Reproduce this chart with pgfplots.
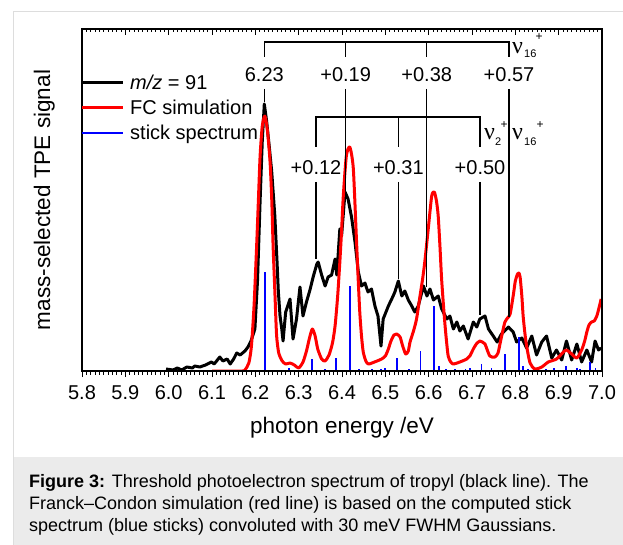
\documentclass[border=0pt]{standalone}
\usepackage{pgfplots}
\pgfplotsset{compat=1.18}
\usepackage{fontspec}
\setmainfont{Liberation Sans}
\newfontfamily\nufont{Liberation Serif}
\definecolor{capbg}{HTML}{EBEBEB}
\definecolor{framec}{HTML}{DDDDDD}
\newcommand{\fs}[1]{\fontsize{#1}{#1}\selectfont}

\pgfplotstableread{
E s
5.994 2
6.010 1
6.020 3
6.030 1
6.042 4
6.055 3
6.060 5
6.072 4
6.085 6
6.099 9
6.105 7
6.118 14
6.125 10
6.135 12
6.142 7
6.150 12
6.157 18
6.165 16
6.176 20
6.183 24
6.190 30
6.199 42
6.205 90
6.211 170
6.216 230
6.2207 267
6.226 250
6.232 225
6.2377 200
6.245 155
6.250 110
6.253 80
6.257 55
6.261 42
6.264 30
6.270 59
6.280 72
6.287 32
6.295 52
6.303 84
6.310 55
6.318 69
6.326 81
6.334 95
6.342 107
6.345 109
6.353 96
6.361 85
6.368 94
6.376 96
6.384 112
6.388 96
6.395 142
6.399 135
6.407 179
6.414 172
6.422 154
6.430 129
6.4377 99
6.445 85
6.453 88
6.460 79
6.468 82
6.476 65
6.483 55
6.490 25
6.495 52
6.507 65
6.518 75
6.522 79
6.530 90
6.538 75
6.545 80
6.553 71
6.561 65
6.568 59
6.576 65
6.588 85
6.596 75
6.603 82
6.611 71
6.622 75
6.630 62
6.642 52
6.649 55
6.657 42
6.665 49
6.672 40
6.680 45
6.691 32
6.703 49
6.711 44
6.718 52
6.730 55
6.738 42
6.749 35
6.758 29
6.768 37
6.784 44
6.795 39
6.803 29
6.815 33
6.826 23
6.838 35
6.849 16
6.861 29
6.872 35
6.884 13
6.895 21
6.907 11
6.918 30
6.930 11
6.942 27
6.953 9
6.965 21
6.976 9
6.984 30
6.992 21
6.998 23
}\expdata

\pgfplotstableread{
E s
6.100 0
6.170 0
6.176 1
6.185 8
6.191 25
6.197 65
6.203 125
6.207 170
6.211 215
6.216 245
6.222 255
6.228 240
6.234 209
6.238 170
6.241 125
6.245 80
6.249 36
6.254 18
6.262 10
6.270 7
6.280 8
6.290 6
6.300 3
6.310 9
6.318 20
6.325 33
6.3315 42
6.338 35
6.344 22
6.353 12
6.361 10
6.370 16
6.378 28
6.384 45
6.390 75
6.395 109
6.399 140
6.403 175
6.410 215
6.418 224
6.426 203
6.433 135
6.437 95
6.441 59
6.445 35
6.449 19
6.455 10
6.461 7
6.475 9
6.4915 12
6.500 15
6.507 22
6.513 30
6.520 36
6.526 37
6.534 34
6.540 25
6.547 17
6.553 20
6.557 29
6.565 40
6.572 52
6.580 75
6.586 92
6.591 109
6.599 142
6.607 175
6.613 179
6.618 170
6.622 155
6.626 125
6.630 91
6.636 55
6.640 35
6.645 15
6.651 9
6.657 7
6.672 9
6.688 12
6.695 15
6.703 22
6.710 27
6.718 30
6.724 29
6.730 27
6.741 15
6.753 14
6.760 18
6.765 28
6.771 40
6.776 49
6.782 53
6.788 57
6.795 75
6.800 90
6.805 97
6.808 98
6.811 94
6.815 75
6.818 55
6.822 38
6.826 25
6.834 8
6.845 2
6.861 4
6.876 9
6.895 12
6.911 19
6.918 21
6.930 17
6.942 13
6.953 21
6.960 30
6.965 39
6.970 46
6.976 49
6.982 50
6.988 55
6.993 63
6.998 72
}\fcdata

\pgfplotstableread{
E s
6.222 99
6.278 3
6.3315 12
6.361 2
6.386 13
6.4177 85
6.440 2
6.470 2
6.490 2
6.500 3
6.526 13
6.555 2
6.581 20
6.613 65
6.624 5
6.640 2
6.660 2
6.685 2
6.695 3
6.722 7
6.745 3
6.776 17
6.808 34
6.817 5
6.830 2
6.870 2
6.890 3
6.917 5
6.942 3
6.950 2
6.972 9
6.985 3
}\stickdata

\begin{document}
\begin{tikzpicture}
\useasboundingbox (0,0) rectangle (623pt,-545pt);
\begin{scope}[x=1pt,y=-1pt]
\fill[white] (0,0) rectangle (623,545);
\fill[capbg] (13,457) rectangle (623,545);
\draw[framec, line width=1pt] (13,545) -- (13,12) -- (623,12);
\node[anchor=base west, inner sep=0pt] at (29,487) {\fs{18}\textbf{Figure 3:} Threshold photoelectron spectrum of tropyl (black line). The};
\node[anchor=base west, inner sep=0pt] at (29,509) {\fs{18}Franck--Condon simulation (red line) is based on the computed stick};
\node[anchor=base west, inner sep=0pt] at (29,531) {\fs{18}spectrum (blue sticks) convoluted with 30 meV FWHM Gaussians.};
\end{scope}

\begin{axis}[at={(82pt,-371pt)}, anchor=south west, scale only axis,
  width=520pt, height=342pt,
  xmin=5.8, xmax=7.0, ymin=0, ymax=342,
  axis line style={line width=1.2pt},
  ytick=\empty,
  xtick={5.8,5.9,6.0,6.1,6.2,6.3,6.4,6.5,6.6,6.7,6.8,6.9,7.0},
  xticklabels={5.8,5.9,6.0,6.1,6.2,6.3,6.4,6.5,6.6,6.7,6.8,6.9,7.0},
  minor x tick num=9,
  xtick pos=left, tick align=outside,
  major tick length=6pt, minor tick length=3.5pt,
  every tick/.style={black, line width=0.8pt},
  xticklabel style={font=\fs{20}, inner sep=0pt, anchor=north, yshift=-8pt},
  xlabel={photon energy /eV},
  xlabel style={font=\fs{22.5}, at={(axis description cs:0.5,-0.18275)}, anchor=base},
  ylabel={mass-selected TPE signal},
  ylabel style={font=\fs{22.5}, at={(axis description cs:-0.0615,0.5)}, anchor=base},
  clip=true,
]
\addplot[black, line width=3pt, line join=round] table[x=E,y=s] {\expdata};
\addplot[red, line width=3pt, line join=round, smooth, tension=0.4] table[x=E,y=s] {\fcdata};
\addplot[blue, line width=1.5pt] coordinates {(6.2,0.5) (7.0,0.5)};
\addplot[blue, line width=1.8pt, ycomb] table[x=E,y=s] {\stickdata};

% assignment brackets
\draw[black, line width=1.3pt] (axis cs:6.2207,314) -- (axis cs:6.2207,329) -- (axis cs:6.7854,329) -- (axis cs:6.7854,314);
\draw[black, line width=1.3pt] (axis cs:6.4085,329) -- (axis cs:6.4085,314);
\draw[black, line width=1.3pt] (axis cs:6.5955,329) -- (axis cs:6.5955,314);
\draw[black, line width=1.3pt] (axis cs:6.2207,282) -- (axis cs:6.2207,269);
\draw[black, line width=1.3pt] (axis cs:6.4085,282) -- (axis cs:6.4085,180);
\draw[black, line width=1.3pt] (axis cs:6.5955,282) -- (axis cs:6.5955,84);
\draw[black, line width=1.3pt] (axis cs:6.7854,282) -- (axis cs:6.7854,54);
\node[font=\fs{20}, inner sep=0pt] at (axis cs:6.2207,296.5) {6.23};
\node[font=\fs{20}, inner sep=0pt] at (axis cs:6.4085,296.5) {+0.19};
\node[font=\fs{20}, inner sep=0pt] at (axis cs:6.5955,296.5) {+0.38};
\node[font=\fs{20}, inner sep=0pt] at (axis cs:6.7854,296.5) {+0.57};

\draw[black, line width=1.3pt] (axis cs:6.34,224) -- (axis cs:6.34,254) -- (axis cs:6.7185,254) -- (axis cs:6.7185,224);
\draw[black, line width=1.3pt] (axis cs:6.53,254) -- (axis cs:6.53,224);
\draw[black, line width=1.3pt] (axis cs:6.34,189) -- (axis cs:6.34,112);
\draw[black, line width=1.3pt] (axis cs:6.53,189) -- (axis cs:6.53,92);
\draw[black, line width=1.3pt] (axis cs:6.7185,189) -- (axis cs:6.7185,56);
\node[font=\fs{20}, inner sep=0pt] at (axis cs:6.34,203.5) {+0.12};
\node[font=\fs{20}, inner sep=0pt] at (axis cs:6.53,203.5) {+0.31};
\node[font=\fs{20}, inner sep=0pt] at (axis cs:6.7185,203.5) {+0.50};
\end{axis}

\begin{axis}[at={(82pt,-371pt)}, anchor=south west, scale only axis,
  width=520pt, height=342pt,
  xmin=5.8, xmax=7.0, ymin=0, ymax=342,
  axis line style={line width=1.2pt},
  ytick=\empty,
  xtick={5.8,5.9,6.0,6.1,6.2,6.3,6.4,6.5,6.6,6.7,6.8,6.9,7.0},
  xticklabels={},
  minor x tick num=9,
  xtick pos=right, tick align=inside,
  major tick length=6pt, minor tick length=3.5pt,
  every tick/.style={black, line width=0.8pt},
]
\end{axis}

\begin{scope}[x=1pt,y=-1pt]
% legend
\draw[black, line width=3pt] (82,83) -- (123,83);
\draw[red, line width=3pt] (82,108) -- (123,108);
\draw[blue, line width=2pt] (82,133) -- (123,133);
\node[anchor=base west, inner sep=0pt, font=\fs{20}] at (130,90) {\textit{m/z} = 91};
\node[anchor=base west, inner sep=0pt, font=\fs{20}] at (130,115) {FC simulation};
\node[anchor=base west, inner sep=0pt, font=\fs{20}] at (130,139.5) {stick spectrum};
% mode labels
\node[anchor=base west, inner sep=0pt] at (512,54) {\nufont\fs{24}ν};
\node[anchor=base west, inner sep=0pt] at (524,58) {\fs{11}16};
\node[inner sep=0pt] at (539,37) {\fs{12}+};
\node[anchor=base west, inner sep=0pt] at (484,140) {\nufont\fs{24}ν};
\node[anchor=base west, inner sep=0pt] at (495,146) {\fs{11}2};
\node[inner sep=0pt] at (504,125) {\fs{12}+};
\node[anchor=base west, inner sep=0pt] at (512,140) {\nufont\fs{24}ν};
\node[anchor=base west, inner sep=0pt] at (524,146) {\fs{11}16};
\node[inner sep=0pt] at (540,125) {\fs{12}+};
\end{scope}
\end{tikzpicture}
\end{document}
